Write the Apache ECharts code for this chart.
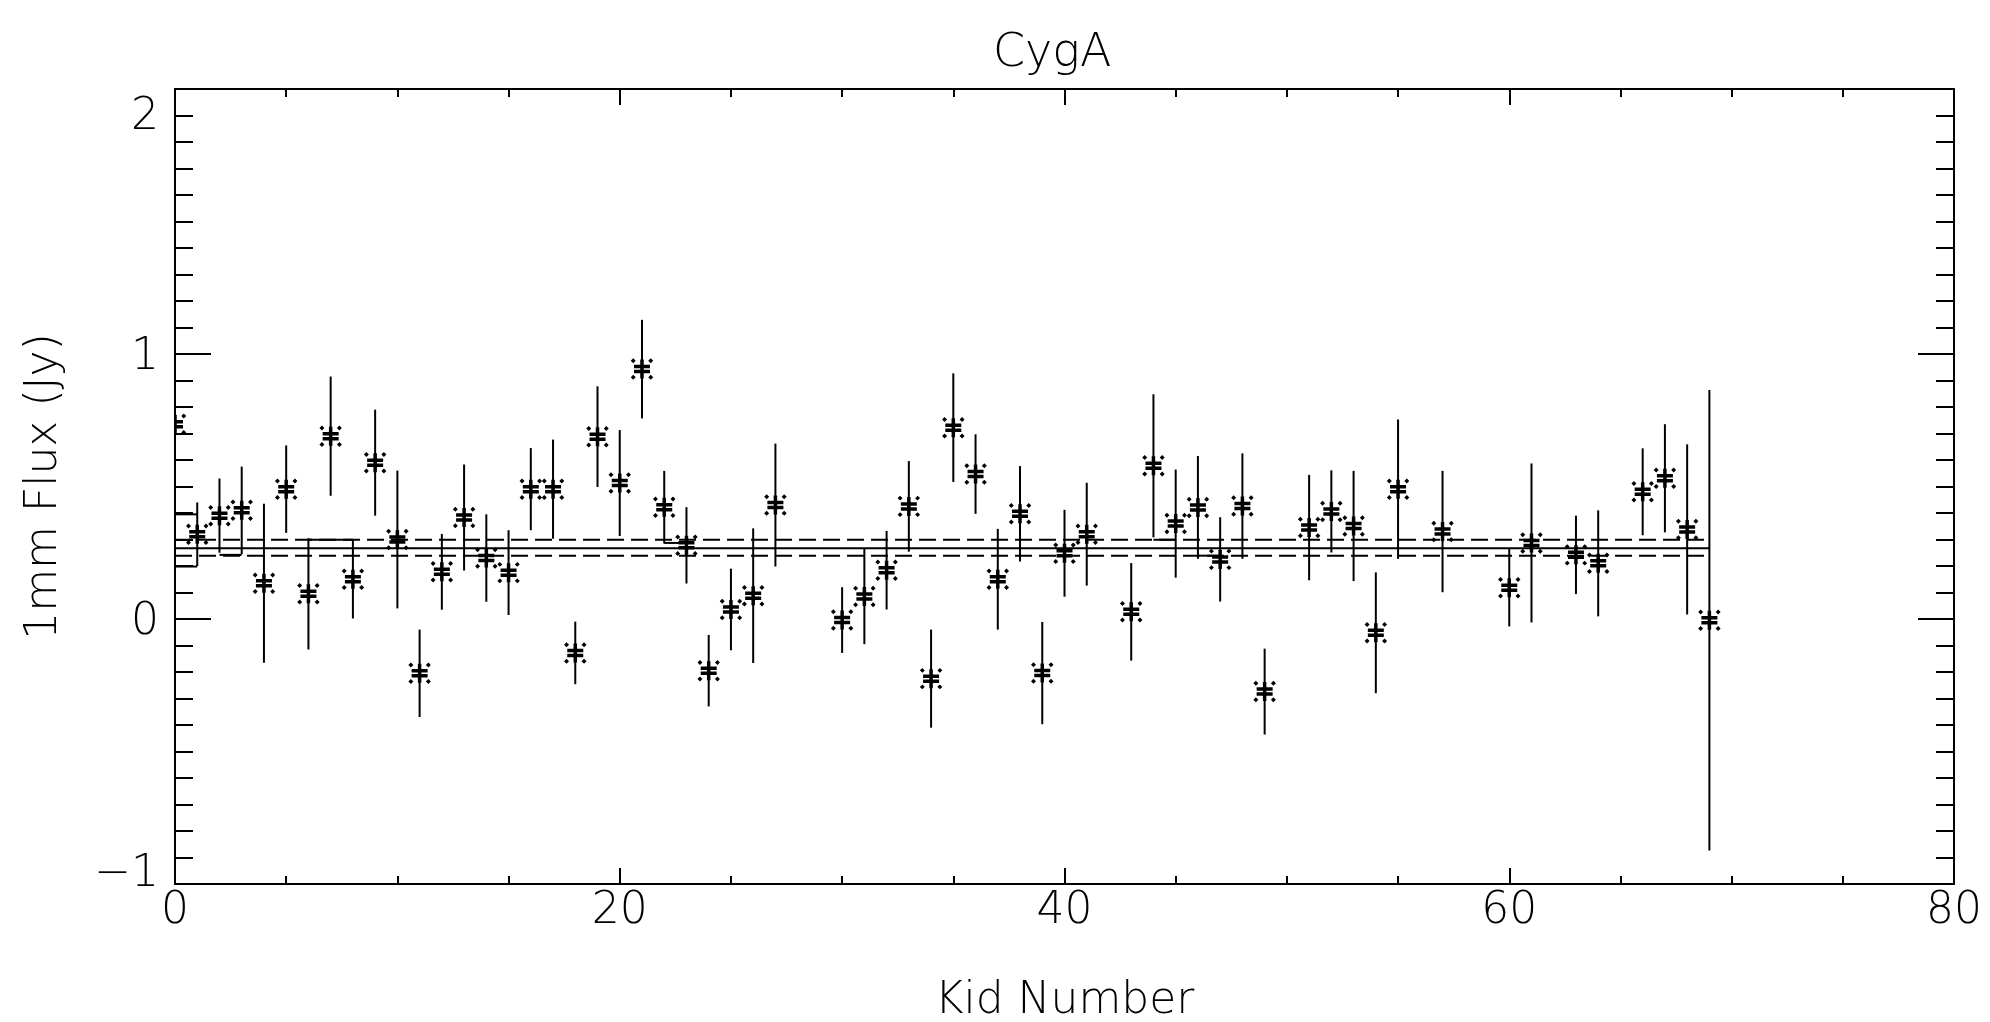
<!DOCTYPE html>
<html>
<head>
<meta charset="utf-8">
<title>CygA</title>
<script src="https://cdn.jsdelivr.net/npm/echarts@6/dist/echarts.min.js"></script>
<style>
    html, body { margin: 0; padding: 0; background: #fff; }
    #chart { width: 1990px; height: 1022px; }
</style>
</head>
<body>
<div id="chart"></div>
<script>
// kid numbers that have a measurement (28, 29, 42, 50, 56, 58, 59, 62, 65 are missing)
const kidNumbers = [0, 1, 2, 3, 4, 5, 6, 7, 8, 9, 10, 11, 12, 13, 14, 15, 16, 17, 18, 19, 20,
    21, 22, 23, 24, 25, 26, 27, 30, 31, 32, 33, 34, 35, 36, 37, 38, 39, 40, 41, 43, 44, 45,
    46, 47, 48, 49, 51, 52, 53, 54, 55, 57, 60, 61, 63, 64, 66, 67, 68, 69];

// 1mm flux (Jy) per kid
const flux = [0.735, 0.32, 0.39, 0.41, 0.135, 0.49, 0.095, 0.69, 0.15, 0.59, 0.30,
    -0.205, 0.178, 0.383, 0.23, 0.175, 0.49, 0.49, -0.128, 0.688, 0.513,
    0.943, 0.422, 0.278, -0.195, 0.036, 0.088, 0.43, -0.004, 0.085, 0.184, 0.425, -0.225,
    0.722, 0.547, 0.15, 0.397, -0.204, 0.248, 0.32, 0.027, 0.578, 0.36,
    0.421, 0.225, 0.426, -0.274, 0.345, 0.406, 0.351, -0.052, 0.49, 0.33, 0.118, 0.287,
    0.242, 0.21, 0.48, 0.531, 0.338, -0.005];

// 1-sigma error per kid
const fluxErr = [0.12, 0.12, 0.14, 0.165, 0.30, 0.165, 0.21, 0.225, 0.148, 0.20, 0.26,
    0.165, 0.143, 0.20, 0.165, 0.16, 0.155, 0.187, 0.118, 0.19, 0.20,
    0.186, 0.137, 0.144, 0.135, 0.154, 0.254, 0.232, 0.124, 0.18, 0.148, 0.171, 0.185,
    0.205, 0.15, 0.19, 0.18, 0.193, 0.164, 0.194, 0.184, 0.27, 0.204,
    0.194, 0.159, 0.199, 0.162, 0.199, 0.155, 0.208, 0.228, 0.263, 0.229, 0.146, 0.30,
    0.148, 0.20, 0.164, 0.204, 0.321, 0.869];

// weighted mean and its +/- band, drawn across the kids
const meanFlux = 0.267;
const upperFlux = 0.299;
const lowerFlux = 0.239;
const bandKids = [0, 69];

// short solid pieces joining the bars to the band lines: [fromKid, toKid, flux]
const stepSegments = [[0, 1, 0.395], [0, 1, 0.198], [2, 3, 0.242], [6, 8, 0.299],
    [22, 23, 0.287], [44, 45, 0.299], [46, 47, 0.239]];

const xTicks = { min: 0, max: 80, interval: 20 };
const yTicks = { min: -1, max: 2, interval: 1 };

const black = "#000";
const fontFamily = "'DejaVu Sans', sans-serif";
const fontSize = 44;

const points = kidNumbers.map((k, i) => [k, flux[i], fluxErr[i]]);

// asterisk-like IDL psym=2 marker (drawn in a 20x20 box)
const starPath = "M0,0.5L2.5,3M20,0.5L17.5,3M0,19.5L2.5,17M20,19.5L17.5,17" +
    "M2,7.5H18M2,12.5H18M10,0.5V19.5";
const markerSize = 20;

const axisLineStyle = { color: black, width: 2 };

const makeXAxis = (position, showLabel) => ({
    type: "value",
    position,
    min: xTicks.min,
    max: xTicks.max,
    interval: xTicks.interval,
    axisLine: { show: true, onZero: false, lineStyle: axisLineStyle },
    axisTick: { show: true, inside: true, length: 16, lineStyle: axisLineStyle },
    minorTick: { show: true, splitNumber: 4, length: 8, lineStyle: axisLineStyle },
    splitLine: { show: false },
    axisLabel: {
        show: showLabel,
        margin: 6,
        color: black,
        fontFamily,
        fontWeight: 200,
        fontSize,
    },
    name: showLabel ? "Kid Number" : "",
    nameLocation: "middle",
    nameGap: 96,
    nameTextStyle: { color: black, fontFamily, fontWeight: 200, fontSize },
});

const labelRich = {
    top: { padding: [58, 0, 0, 0], fontFamily, fontWeight: 200, fontSize, color: black },
    bot: { padding: [0, 0, 18, 0], fontFamily, fontWeight: 200, fontSize, color: black },
    mid: { padding: [8, 0, 0, 0], fontFamily, fontWeight: 200, fontSize, color: black },
};

const makeYAxis = (position, showLabel) => ({
    type: "value",
    position,
    min: yTicks.min,
    max: yTicks.max,
    interval: yTicks.interval,
    axisLine: { show: true, onZero: false, lineStyle: axisLineStyle },
    axisTick: { show: true, inside: true, length: 36, lineStyle: axisLineStyle },
    minorTick: { show: true, splitNumber: 10, length: 18, lineStyle: axisLineStyle },
    splitLine: { show: false },
    axisLabel: {
        show: showLabel,
        margin: 16,
        formatter: value => {
            const text = String(value).replace("-", "\u2212");
            if (value === yTicks.max) {
                return `{top|${text}}`;
            }
            if (value === yTicks.min) {
                return `{bot|${text}}`;
            }
            return `{mid|${text}}`;
        },
        rich: labelRich,
    },
    name: showLabel ? "1mm Flux (Jy)" : "",
    nameLocation: "middle",
    nameGap: 108,
    nameTextStyle: { color: black, fontFamily, fontWeight: 200, fontSize },
});

const bandLine = (level, dashed) => ({
    type: "line",
    data: bandKids.map(k => [k, level]),
    symbol: "none",
    silent: true,
    lineStyle: { color: black, width: 2, type: dashed ? [17, 7] : "solid" },
    z: 2,
});

const option = {
    backgroundColor: "#fff",
    animation: false,
    title: {
        text: "CygA",
        left: 988,
        top: 26,
        textStyle: { color: black, fontFamily, fontWeight: 200, fontSize: 46 },
    },
    grid: {
        left: 175,
        right: 36,
        top: 89,
        bottom: 138,
        containLabel: false,
        outerBoundsMode: "none",
    },
    xAxis: [makeXAxis("bottom", true), makeXAxis("top", false)],
    yAxis: [makeYAxis("left", true), makeYAxis("right", false)],
    series: [
        bandLine(meanFlux, false),
        bandLine(upperFlux, true),
        bandLine(lowerFlux, true),
        {
            type: "custom",
            data: stepSegments,
            renderItem: (params, api) => {
                const a = api.coord([api.value(0), api.value(2)]);
                const b = api.coord([api.value(1), api.value(2)]);
                return {
                    type: "line",
                    shape: { x1: a[0], y1: a[1], x2: b[0], y2: b[1] },
                    style: { stroke: black, lineWidth: 2 },
                };
            },
            silent: true,
            z: 3,
        },
        {
            // error bar plus star marker, clipped to the plot box like IDL does
            type: "custom",
            data: points,
            clip: true,
            renderItem: (params, api) => {
                const k = api.value(0);
                const v = api.value(1);
                const e = api.value(2);
                const hi = api.coord([k, v + e]);
                const lo = api.coord([k, v - e]);
                const c = api.coord([k, v]);
                return {
                    type: "group",
                    children: [
                        {
                            type: "line",
                            shape: { x1: hi[0], y1: hi[1], x2: lo[0], y2: lo[1] },
                            style: { stroke: black, lineWidth: 2 },
                        },
                        {
                            type: "path",
                            shape: {
                                pathData: starPath,
                                x: c[0] - markerSize / 2,
                                y: c[1] - markerSize / 2,
                                width: markerSize,
                                height: markerSize,
                            },
                            style: { fill: null, stroke: black, lineWidth: 3.5 },
                        },
                    ],
                };
            },
            silent: true,
            z: 4,
        },
    ],
};

const chart = echarts.init(document.getElementById("chart"));
chart.setOption(option);
</script>
</body>
</html>
